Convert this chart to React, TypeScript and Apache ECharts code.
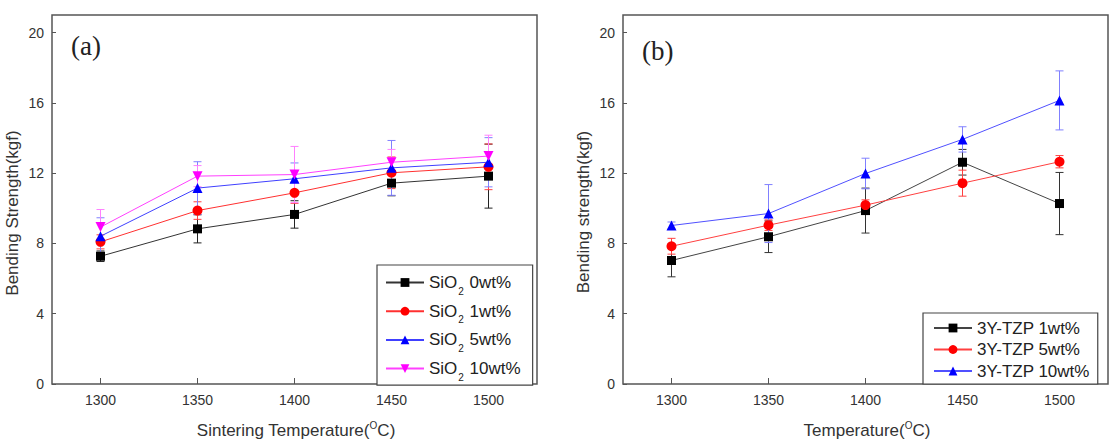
import React, { useEffect, useRef } from "react";
import * as echarts from "echarts";

// Sintering temperatures (°C), shared by both panels
const temperatures = [1300, 1350, 1400, 1450, 1500];
const yTickValues = [0, 4, 8, 12, 16, 20];

// Panel (a): bending strength (kgf) vs SiO2 content
const sio2Names = ["SiO2 0wt%", "SiO2 1wt%", "SiO2 5wt%", "SiO2 10wt%"];
const sio2_0 = [7.27, 8.83, 9.65, 11.43, 11.83];
const sio2_0Err = [0.3, 0.8, 0.78, 0.72, 1.82];
const sio2_1 = [8.09, 9.87, 10.88, 12.02, 12.36];
const sio2_1Err = [0.4, 0.5, 0.6, 0.9, 1.3];
const sio2_5 = [8.41, 11.15, 11.68, 12.3, 12.62];
const sio2_5Err = [1.05, 1.5, 0.9, 1.56, 1.4];
const sio2_10 = [8.93, 11.83, 11.92, 12.62, 12.97];
const sio2_10Err = [1.0, 0.6, 1.6, 0.73, 1.19];

// Panel (b): bending strength (kgf) vs 3Y-TZP content
const tzpNames = ["3Y-TZP 1wt%", "3Y-TZP 5wt%", "3Y-TZP 10wt%"];
const tzp1 = [7.03, 8.38, 9.87, 12.62, 10.27];
const tzp1Err = [0.93, 0.9, 1.28, 0.73, 1.77];
const tzp5 = [7.84, 9.04, 10.18, 11.43, 12.65];
const tzp5Err = [0.45, 0.3, 0.3, 0.74, 0.35];
const tzp10 = [9.02, 9.7, 11.98, 13.92, 16.14];
const tzp10Err = [0.2, 1.65, 0.87, 0.72, 1.68];

const SANS = "'Liberation Sans', Arial, sans-serif";
const SERIF = "'Liberation Serif', 'Times New Roman', serif";
const FRAME = "#555";

const points = (vals: number[]) => temperatures.map((t, i) => [t, vals[i]]);

const lineSeries = (
  name: string,
  idx: number,
  vals: number[],
  color: string,
  lineColor: string,
  symbol: string,
  size: number,
  rotate = 0
) => ({
  type: "line",
  name,
  xAxisIndex: idx,
  yAxisIndex: idx,
  data: points(vals),
  symbol,
  symbolSize: size,
  symbolRotate: rotate,
  itemStyle: { color },
  lineStyle: { color: lineColor, width: 1 },
  z: 3,
});

const errorSeries = (idx: number, vals: number[], errs: number[], color: string) => ({
  type: "custom",
  xAxisIndex: idx,
  yAxisIndex: idx,
  silent: true,
  z: 2,
  data: temperatures.map((t, i) => [t, vals[i] - errs[i], vals[i] + errs[i]]),
  encode: { x: 0, y: [1, 2] },
  renderItem: (_params: any, api: any) => {
    const lo = api.coord([api.value(0), api.value(1)]);
    const hi = api.coord([api.value(0), api.value(2)]);
    const hw = 4;
    const style = { stroke: color, lineWidth: 1 };
    return {
      type: "group",
      children: [
        { type: "line", shape: { x1: lo[0], y1: lo[1], x2: hi[0], y2: hi[1] }, style },
        { type: "line", shape: { x1: lo[0] - hw, y1: lo[1], x2: lo[0] + hw, y2: lo[1] }, style },
        { type: "line", shape: { x1: hi[0] - hw, y1: hi[1], x2: hi[0] + hw, y2: hi[1] }, style },
      ],
    };
  },
});

const xAxis = (idx: number) => ({
  type: "value",
  gridIndex: idx,
  min: 1275,
  max: 1525,
  splitLine: { show: false },
  axisLine: { show: false },
  axisTick: { inside: true, length: 6, lineStyle: { color: FRAME }, customValues: temperatures },
  axisLabel: {
    customValues: temperatures,
    formatter: (v: number) => String(v),
    margin: 9,
    fontSize: 14,
    fontFamily: SANS,
    color: "#333",
  },
});

const yAxis = (idx: number) => ({
  type: "value",
  gridIndex: idx,
  min: 0,
  max: 21,
  splitLine: { show: false },
  axisLine: { show: false },
  axisTick: { inside: true, length: 4, lineStyle: { color: FRAME }, customValues: yTickValues },
  axisLabel: {
    customValues: yTickValues,
    formatter: (v: number) => String(v),
    margin: 8,
    fontSize: 14,
    fontFamily: SANS,
    color: "#333",
  },
});

const titleText = (x: number, y: number, text: string, rotation = 0) => ({
  type: "text",
  x,
  y,
  rotation,
  style: {
    text,
    fontSize: 17,
    fontFamily: SANS,
    fill: "#333",
    align: "center",
    verticalAlign: "middle",
    lineHeight: 20,
    rich: {
      sup: { fontSize: 10, lineHeight: 8, verticalAlign: "top", fill: "#333", fontFamily: SANS },
    },
  },
});

export default function App() {
  const ref = useRef<HTMLDivElement>(null);

  useEffect(() => {
    if (!ref.current) return;
    const chart = echarts.init(ref.current, undefined, { renderer: "svg" });

    chart.setOption({
      animation: false,
      backgroundColor: "#fff",
      grid: [
        { left: 52, top: 15, width: 485, height: 369, show: true, borderColor: FRAME, borderWidth: 1.5 },
        { left: 623, top: 15, width: 485, height: 369, show: true, borderColor: FRAME, borderWidth: 1.5 },
      ],
      xAxis: [xAxis(0), xAxis(1)],
      yAxis: [yAxis(0), yAxis(1)],
      legend: [
        {
          data: sio2Names,
          orient: "vertical",
          left: 377,
          top: 265,
          padding: [4, 12, 3, 8],
          itemGap: 1.7,
          itemWidth: 38,
          itemHeight: 11,
          itemTextGap: 6,
          borderColor: "#444",
          borderWidth: 1.2,
          borderRadius: 0,
          backgroundColor: "#fff",
          formatter: (name: string) => name.replace("SiO2", "SiO{sub|2}"),
          textStyle: {
            fontSize: 17,
            fontFamily: SANS,
            color: "#222",
            lineHeight: 20,
            rich: {
              sub: { fontSize: 10, lineHeight: 2, padding: [17, 1, 0, 1], fontFamily: SANS, color: "#222" },
            },
          },
        },
        {
          data: tzpNames,
          orient: "vertical",
          left: 923,
          top: 313,
          padding: [6, 8, 4, 10],
          itemGap: 3.5,
          itemWidth: 38,
          itemHeight: 11,
          itemTextGap: 6,
          borderColor: "#444",
          borderWidth: 1.2,
          borderRadius: 0,
          backgroundColor: "#fff",
          textStyle: { fontSize: 17, fontFamily: SANS, color: "#222", lineHeight: 18 },
        },
      ],
      graphic: [
        titleText(296, 430, "Sintering Temperature({sup|O}C)"),
        titleText(867, 430, "Temperature({sup|O}C)"),
        titleText(12, 213, "Bending Strength(kgf)", Math.PI / 2),
        titleText(583, 212, "Bending strength(kgf)", Math.PI / 2),
        {
          type: "text",
          x: 71,
          y: 46,
          style: { text: "(a)", fontSize: 27, fontFamily: SERIF, fill: "#222", verticalAlign: "middle" },
        },
        {
          type: "text",
          x: 642,
          y: 51,
          style: { text: "(b)", fontSize: 27, fontFamily: SERIF, fill: "#222", verticalAlign: "middle" },
        },
      ],
      series: [
        errorSeries(0, sio2_0, sio2_0Err, "#222"),
        errorSeries(0, sio2_1, sio2_1Err, "#ff4040"),
        errorSeries(0, sio2_5, sio2_5Err, "#8080ff"),
        errorSeries(0, sio2_10, sio2_10Err, "#ff80ff"),
        lineSeries(sio2Names[0], 0, sio2_0, "#000", "#333", "rect", 9),
        lineSeries(sio2Names[1], 0, sio2_1, "#ff0000", "#ff3030", "circle", 10),
        lineSeries(sio2Names[2], 0, sio2_5, "#0000ff", "#4040ff", "triangle", 10),
        lineSeries(sio2Names[3], 0, sio2_10, "#ff00ff", "#ff40ff", "triangle", 10, 180),

        errorSeries(1, tzp1, tzp1Err, "#333"),
        errorSeries(1, tzp5, tzp5Err, "#ff4040"),
        errorSeries(1, tzp10, tzp10Err, "#8080ff"),
        lineSeries(tzpNames[0], 1, tzp1, "#000", "#444", "rect", 9),
        lineSeries(tzpNames[1], 1, tzp5, "#ff0000", "#ff4040", "circle", 10),
        lineSeries(tzpNames[2], 1, tzp10, "#0000ff", "#5050ff", "triangle", 10),
      ],
    });

    return () => chart.dispose();
  }, []);

  return (
    <div
      ref={ref}
      style={{ position: "absolute", left: 0, top: 0, width: 1110, height: 439, background: "#fff" }}
    />
  );
}
